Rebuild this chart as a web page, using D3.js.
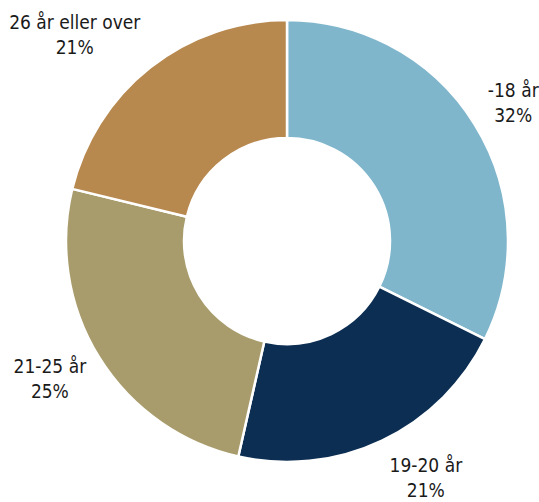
<!DOCTYPE html>
<html>
<head>
<meta charset="utf-8">
<script src="https://cdn.jsdelivr.net/npm/d3@7"></script>
<style>
  html, body { margin: 0; padding: 0; background: #ffffff; }
  svg { display: block; }
</style>
</head>
<body>
<svg id="chart" width="539" height="502"></svg>
<script>
// Age groups and their shares (percent)
const categories = ["-18 år", "19-20 år", "21-25 år", "26 år eller over"];
const shares = [32, 21, 25, 21];
const colors = ["#7fb6cc", "#0c2e53", "#a99c6c", "#b8894f"];

const width = 539, height = 502;
const cx = 287, cy = 241;
const outerR = 221, innerR = 103;

const svg = d3.select("#chart");
const g = svg.append("g").attr("transform", `translate(${cx},${cy})`);

const pie = d3.pie().sort(null).value(d => d.value);
const arcs = pie(categories.map((c, i) => ({ label: c, value: shares[i], color: colors[i] })));

const arc = d3.arc().innerRadius(innerR).outerRadius(outerR);

g.selectAll("path.slice")
  .data(arcs)
  .join("path")
  .attr("class", "slice")
  .attr("d", arc)
  .attr("fill", d => d.data.color)
  .attr("stroke", "#ffffff")
  .attr("stroke-width", 2.5)
  .attr("stroke-linejoin", "round");

// Labels placed outside the ring, anchored on the side the slice faces
const labelR = 234;
const lineH = 25;
const fontSize = 19;
const vShift = 28;

g.selectAll("text.lbl")
  .data(arcs)
  .join("text")
  .attr("class", "lbl")
  .attr("font-family", "'DejaVu Sans Condensed', 'DejaVu Sans', sans-serif")
  .attr("font-stretch", "condensed")
  .attr("font-size", fontSize)
  .attr("fill", "#1a1a1a")
  .attr("text-anchor", "middle")
  .each(function (d) {
    const a = (d.startAngle + d.endAngle) / 2;
    const s = Math.sin(a), c = Math.cos(a);
    const ax = labelR * s, ay = -labelR * c;
    const t = d3.select(this);
    t.append("tspan").attr("class", "l1").text(d.data.label);
    t.append("tspan").attr("class", "l2").text(d3.format(".0f")(d.data.value) + "%");
    const w1 = t.select(".l1").node().getComputedTextLength();
    const centerX = s >= 0 ? ax + 2 + w1 / 2 : ax - 2 - w1 / 2;
    const centerY = ay - c * vShift;
    const firstBase = centerY - lineH / 2 + fontSize * 0.36;
    t.selectAll("tspan")
      .attr("x", centerX)
      .attr("y", (_, i) => firstBase + i * lineH);
  });
</script>
</body>
</html>
